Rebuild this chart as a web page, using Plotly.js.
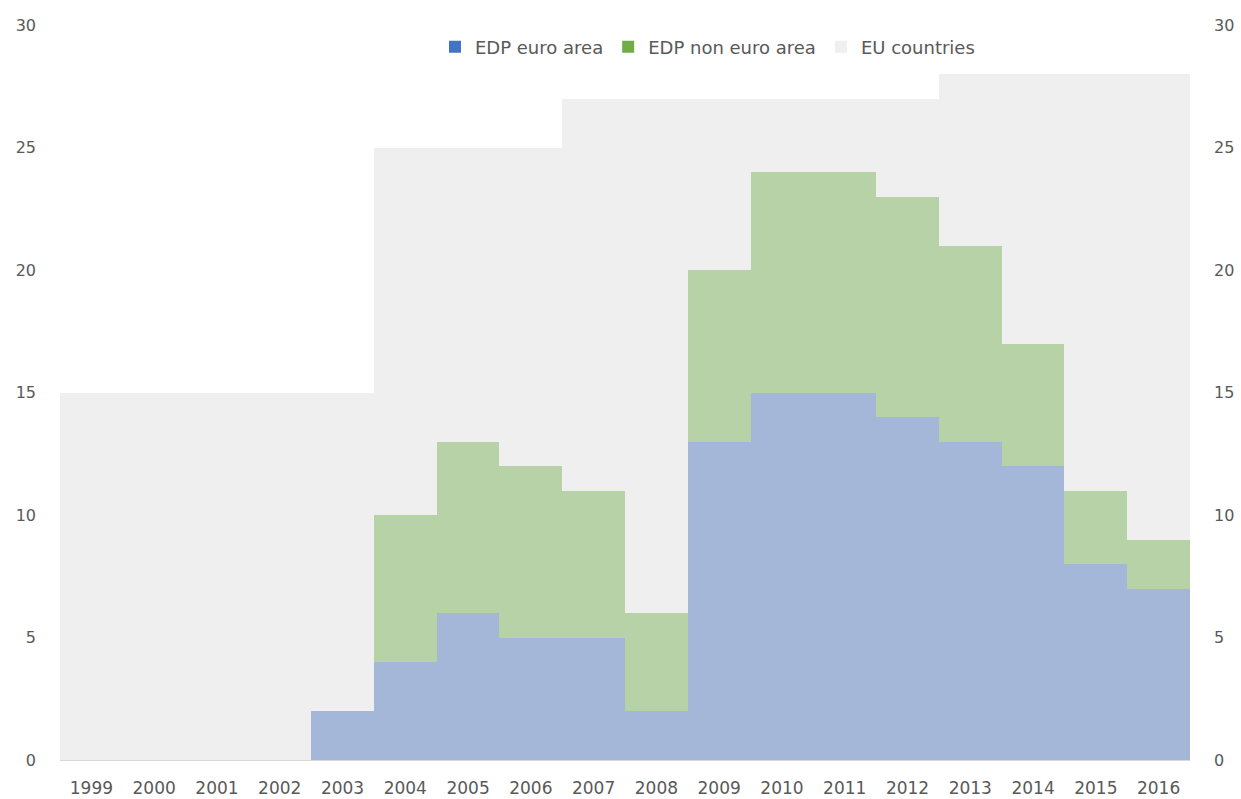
<!DOCTYPE html>
<html>
<head>
<meta charset="utf-8">
<script src="https://cdn.plot.ly/plotly-3.0.1.min.js"></script>
<style>html,body{margin:0;padding:0;background:#fff;}#chart{width:1241px;height:799px;}</style>
</head>
<body>
<div id="chart"></div>
<script>
const years = ['1999','2000','2001','2002','2003','2004','2005','2006','2007','2008','2009','2010','2011','2012','2013','2014','2015','2016'];
const edpEuroArea = [0,0,0,0,2,4,6,5,5,2,13,15,15,14,13,12,8,7];
const edpNonEuroArea = [0,0,0,0,0,6,7,7,6,4,7,9,9,9,8,5,3,2];
const euCountries = [15,15,15,15,15,25,25,25,27,27,27,27,27,27,28,28,28,28];
const legendNames = ['EDP euro area','EDP non euro area','EU countries'];

const remainder = euCountries.map((v,i)=>v - edpEuroArea[i] - edpNonEuroArea[i]);

const textColor = '#595959';
const fam = '"DejaVu Sans", Verdana, sans-serif';
const yFont = {family:fam, size:16, color:textColor};
const xFont = {family:fam, size:17, color:textColor};
const legFont = {family:fam, size:18, color:textColor};

const traces = [
  {type:'bar', x:years, y:edpEuroArea, marker:{color:'#A4B7D8', line:{width:0}}, showlegend:false, hoverinfo:'x+y'},
  {type:'bar', x:years, y:edpNonEuroArea, marker:{color:'#B6D2A6', line:{width:0}}, showlegend:false, hoverinfo:'x+y'},
  {type:'bar', x:years, y:remainder, marker:{color:'#EFEFEF', line:{width:0}}, showlegend:false, hoverinfo:'x'},
  {type:'bar', x:years, y:years.map(()=>null), name:legendNames[0], marker:{color:'#4472C4'}, yaxis:'y2'},
  {type:'bar', x:years, y:years.map(()=>null), name:legendNames[1], marker:{color:'#70AD47'}, yaxis:'y2'},
  {type:'bar', x:years, y:years.map(()=>null), name:legendNames[2], marker:{color:'#EFEFEF'}, yaxis:'y2'}
];

const layout = {
  width:1241, height:799,
  margin:{l:60, r:51, t:25, b:39},
  paper_bgcolor:'#fff', plot_bgcolor:'#fff',
  font:yFont,
  barmode:'stack', bargap:0,
  xaxis:{type:'category', range:[-0.5,17.5], showgrid:false, zeroline:false, showline:true, linecolor:'#D9D9D9', linewidth:1, ticks:'', tickfont:xFont, ticklabelstandoff:13},
  yaxis:{range:[0,30], dtick:5, showgrid:false, zeroline:false, showline:false, ticks:'', tickfont:yFont, ticklabelstandoff:23, fixedrange:true},
  yaxis2:{range:[0,30], dtick:5, overlaying:'y', side:'right', showgrid:false, zeroline:false, showline:false, ticks:'', tickfont:yFont, ticklabelstandoff:23},
  legend:{orientation:'h', x:0.573, xanchor:'center', y:0.97, yanchor:'middle', font:legFont, bgcolor:'rgba(0,0,0,0)', traceorder:'normal', itemwidth:30},
  showlegend:true
};

Plotly.newPlot('chart', traces, layout, {displayModeBar:false, staticPlot:true});
</script>
</body>
</html>
